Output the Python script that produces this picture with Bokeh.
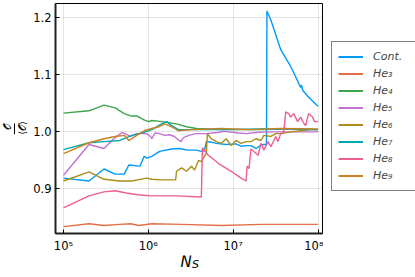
from bokeh.plotting import figure
from bokeh.models import (Range1d, FixedTicker, Legend, LegendItem, Label,
                          BoxAnnotation)
from bokeh.layouts import row, column
from bokeh.embed import file_html
from bokeh.resources import INLINE

# ---------------- data ----------------
series_names = ["Cont.", "He₃", "He₄", "He₅", "He₆", "He₇", "He₈", "He₉"]
series_colors = ["#009AFA", "#E36F47", "#3EA44E", "#C371D2",
                 "#AC8E18", "#00A9AD", "#ED5E93", "#C68225"]

cont_N = [1.0e5, 2.0e5, 3.0e5, 4.06e5, 5.2e5, 5.9e5, 7.96e5, 8.9e5, 9.6e5, 1.1e6,
          1.36e6, 1.88e6, 2.33e6, 2.9e6, 3.69e6, 4.22e6, 4.58e6, 4.83e6, 5.53e6, 6.33e6,
          8.28e6, 1.08e7, 1.24e7, 1.46e7, 1.62e7, 1.86e7, 2.13e7, 2.3e7, 2.47e7, 2.5e7,
          2.78e7, 3.64e7, 4.76e7, 6.24e7, 6.4e7, 6.59e7, 7.54e7, 8.62e7, 1.0e8]
cont_v = [0.919, 0.914, 0.935, 0.926, 0.926, 0.942, 0.940, 0.957, 0.954, 0.957,
          0.966, 0.970, 0.971, 0.968, 0.968, 0.966, 0.967, 0.983, 0.982, 0.980,
          0.978, 0.979, 0.975, 0.976, 0.976, 0.971, 0.977, 0.978, 0.978, 1.212,
          1.196, 1.144, 1.115, 1.078, 1.082, 1.073, 1.063, 1.054, 1.045]

he3_N = [1e5, 2e5, 3e5, 4.6e5, 6.2e5, 7.7e5, 1.1e6, 2.47e6, 7.24e6, 2.13e7, 1e8]
he3_v = [0.834, 0.839, 0.836, 0.838, 0.839, 0.836, 0.839, 0.838, 0.836, 0.838, 0.838]

he4_N = [1e5, 2e5, 3e5, 4.06e5, 5.2e5, 6.2e5, 7.3e5, 8.9e5, 1.01e6, 1.1e6,
         1.44e6, 2.15e6, 2.82e6, 3.69e6, 7.24e6, 2.13e7, 3.64e7, 1e8]
he4_v = [1.033, 1.037, 1.047, 1.042, 1.032, 1.028, 1.028, 1.021, 1.018, 1.020,
         1.018, 1.014, 1.009, 1.006, 1.004, 1.004, 1.005, 1.004]

he5_N = [1e5, 2e5, 3e5, 4.06e5, 4.9e5, 6.2e5, 7.3e5, 9.6e5, 1.06e6, 1.1e6,
         1.2e6, 1.36e6, 1.56e6, 1.78e6, 2.03e6, 2.3e6, 2.42e6, 2.6e6, 3.0e6, 3.6e6,
         4.83e6, 6.5e6, 7.9e6, 1.16e7, 1.42e7, 1.86e7, 2.43e7, 3.64e7, 6.24e7, 1e8]
he5_v = [0.924, 0.978, 0.971, 0.990, 0.999, 0.992, 0.997, 0.997, 0.992, 0.988,
         0.998, 0.997, 0.994, 0.995, 0.992, 0.985, 0.983, 0.990, 0.994, 0.997,
         0.997, 0.999, 1.001, 0.998, 0.997, 0.999, 1.000, 1.000, 1.000, 1.000]

he6_N = [1e5, 2e5, 3e5, 4.6e5, 6.4e5, 9.6e5, 1.1e6, 1.44e6, 2.1e6, 2.15e6,
         2.47e6, 2.82e6, 3.23e6, 3.5e6, 3.9e6, 4.22e6, 4.58e6, 4.83e6, 4.97e6, 5.53e6,
         6.33e6, 7.24e6, 8.28e6, 9.48e6, 1.08e7, 1.24e7, 1.42e7, 1.62e7, 1.86e7, 2.13e7,
         2.3e7, 2.78e7, 3.18e7, 3.64e7, 4.76e7, 6.24e7, 8.17e7, 1e8]
he6_v = [0.914, 0.930, 0.917, 0.914, 0.914, 0.919, 0.917, 0.916, 0.916, 0.931,
         0.937, 0.931, 0.940, 0.933, 0.950, 0.948, 0.957, 0.962, 0.997, 0.988,
         0.983, 0.980, 0.988, 0.976, 0.985, 0.980, 0.983, 0.983, 0.988, 0.985,
         0.994, 0.992, 0.997, 0.997, 1.000, 1.002, 1.004, 1.004]

he7_N = [1e5, 2e5, 3e5, 4.6e5, 6.4e5, 8.4e5, 1.1e6, 1.44e6, 1.65e6, 1.88e6,
         2.27e6, 3.23e6, 7.24e6, 2.13e7, 1e8]
he7_v = [0.969, 0.981, 0.983, 0.985, 0.994, 0.998, 1.004, 1.014, 1.018, 1.011,
         1.004, 1.004, 1.004, 1.005, 1.004]

he8_N = [1e5, 2e5, 3e5, 4.06e5, 5.5e5, 7.5e5, 1.1e6, 2.15e6, 4.22e6, 4.34e6,
         4.46e6, 5.1e6, 6.68e6, 9.48e6, 1.24e7, 1.42e7, 1.46e7, 1.54e7, 1.62e7, 1.97e7,
         2.13e7, 2.3e7, 2.58e7, 2.78e7, 3.18e7, 3.36e7, 3.64e7, 3.95e7, 4.17e7, 4.52e7,
         4.76e7, 5.16e7, 5.75e7, 6.24e7, 6.76e7, 7.14e7, 7.74e7, 8.62e7, 9.1e7, 1e8]
he8_v = [0.867, 0.888, 0.895, 0.897, 0.893, 0.890, 0.888, 0.888, 0.886, 0.972,
         0.970, 0.959, 0.945, 0.931, 0.919, 0.914, 0.940, 0.936, 0.970, 0.959,
         0.980, 0.968, 0.983, 0.974, 0.992, 0.983, 0.997, 1.000, 1.035, 1.032,
         1.026, 1.032, 1.018, 1.026, 1.016, 1.011, 1.032, 1.026, 1.018, 1.018]

he9_N = [1e5, 2e5, 3e5, 4.06e5, 5.2e5, 5.9e5, 7.3e5, 8.9e5, 1.1e6, 1.33e6,
         1.56e6, 1.88e6, 2.25e6, 3.23e6, 7.24e6, 1.62e7, 3.64e7, 1e8]
he9_v = [0.962, 0.981, 0.988, 0.992, 0.994, 0.985, 0.994, 1.002, 1.006, 1.009,
         1.014, 1.009, 1.002, 1.004, 1.006, 1.004, 1.006, 1.005]

x_ticks = [1e5, 1e6, 1e7, 1e8]
x_tick_labels = ["10⁵", "10⁶", "10⁷", "10⁸"]
y_ticks = [0.9, 1.0, 1.1, 1.2]
y_tick_labels = ["0.9", "1.0", "1.1", "1.2"]

all_N = [cont_N, he3_N, he4_N, he5_N, he6_N, he7_N, he8_N, he9_N]
all_v = [cont_v, he3_v, he4_v, he5_v, he6_v, he7_v, he8_v, he9_v]

FONT = "DejaVu Sans"


def blank(w, h):
    f = figure(width=w, height=h, x_range=Range1d(0, w), y_range=Range1d(0, h),
               output_backend="svg", toolbar_location=None,
               x_axis_location=None, y_axis_location=None,
               min_border_left=0, min_border_right=0,
               min_border_top=0, min_border_bottom=0)
    f.grid.visible = False
    f.outline_line_color = None
    f.background_fill_color = "white"
    f.border_fill_color = "white"
    return f


# ---------------- main plot ----------------
p = figure(width=293, height=255, x_axis_type="log",
           x_range=Range1d(10 ** 4.906, 10 ** 8.053),
           y_range=Range1d(0.822, 1.225),
           output_backend="svg", toolbar_location=None,
           min_border_left=23, min_border_right=1,
           min_border_top=3, min_border_bottom=19)
p.background_fill_color = "white"
p.border_fill_color = "white"
p.outline_line_color = "black"
p.outline_line_width = 1

for col, xs, ys in zip(series_colors, all_N, all_v):
    p.line(xs, ys, line_color=col, line_width=1.4)

p.xaxis.ticker = FixedTicker(ticks=x_ticks)
p.xaxis.major_label_overrides = {t: l for t, l in zip(x_ticks, x_tick_labels)}
p.yaxis.ticker = FixedTicker(ticks=y_ticks)
p.yaxis.major_label_overrides = {t: l for t, l in zip(y_ticks, y_tick_labels)}
for ax in (p.xaxis[0], p.yaxis[0]):
    ax.axis_line_color = "#222222"
    ax.axis_line_width = 2
    ax.major_tick_in = 4
    ax.major_tick_out = 0
    ax.minor_tick_line_color = None
    ax.major_tick_line_color = "black"
    ax.major_label_text_font = FONT
    ax.major_label_text_font_size = "11.5px"
    ax.major_label_text_color = "black"
p.xaxis.major_label_standoff = 5
p.yaxis.major_label_standoff = 4

p.xgrid.ticker = FixedTicker(ticks=x_ticks)
p.ygrid.ticker = FixedTicker(ticks=y_ticks)
for g in (p.xgrid[0], p.ygrid[0]):
    g.grid_line_color = "black"
    g.grid_line_alpha = 0.1
    g.grid_line_width = 1

# ---------------- y-axis label (fraction) ----------------
yl = blank(30, 255)
lab_kw = dict(text_font=FONT, text_color="black",
              text_align="center", text_baseline="middle")
yl.add_layout(Label(x=7, y=118, text="𝒪", text_font_size="10px",
                    angle=1.5708, **lab_kw))
yl.add_layout(Label(x=22, y=117, text="⟨𝒪⟩", text_font_size="10px",
                    angle=1.5708, **lab_kw))
yl.add_layout(BoxAnnotation(left=13.5, right=14.5, bottom=110, top=122,
                            fill_color="black", fill_alpha=1, line_color=None))

# ---------------- x-axis label (page y = 277 - data y) ----------------
xl = blank(323, 22)
xl.add_layout(Label(x=185.5, y=16, text="N", text_font_size="15px",
                    text_font_style="italic", **lab_kw))
xl.add_layout(Label(x=195, y=13, text="S", text_font_size="11px",
                    text_font_style="italic", **lab_kw))

# ---------------- legend panel ----------------
lg = blank(92, 277)
items = []
for name, col, xs, ys in zip(series_names, series_colors, all_N, all_v):
    # the series data lie far outside this panel's ranges; only the legend glyph shows
    r = lg.line(xs, ys, line_color=col, line_width=2)
    items.append(LegendItem(label=name, renderers=[r]))
leg = Legend(items=items, location=(8, 86))
leg.label_text_font = FONT
leg.label_text_font_style = "italic"
leg.label_text_font_size = "11px"
leg.glyph_width = 25
leg.glyph_height = 17
leg.label_height = 17
leg.spacing = 0
leg.padding = 6
leg.margin = 0
leg.label_standoff = 10
leg.label_width = 60
leg.border_line_color = "black"
leg.border_line_width = 1
leg.background_fill_color = "white"
lg.add_layout(leg, "center")

layout = row(column(row(yl, p), xl), lg)
open("out.html", "w").write(file_html(layout, INLINE))
